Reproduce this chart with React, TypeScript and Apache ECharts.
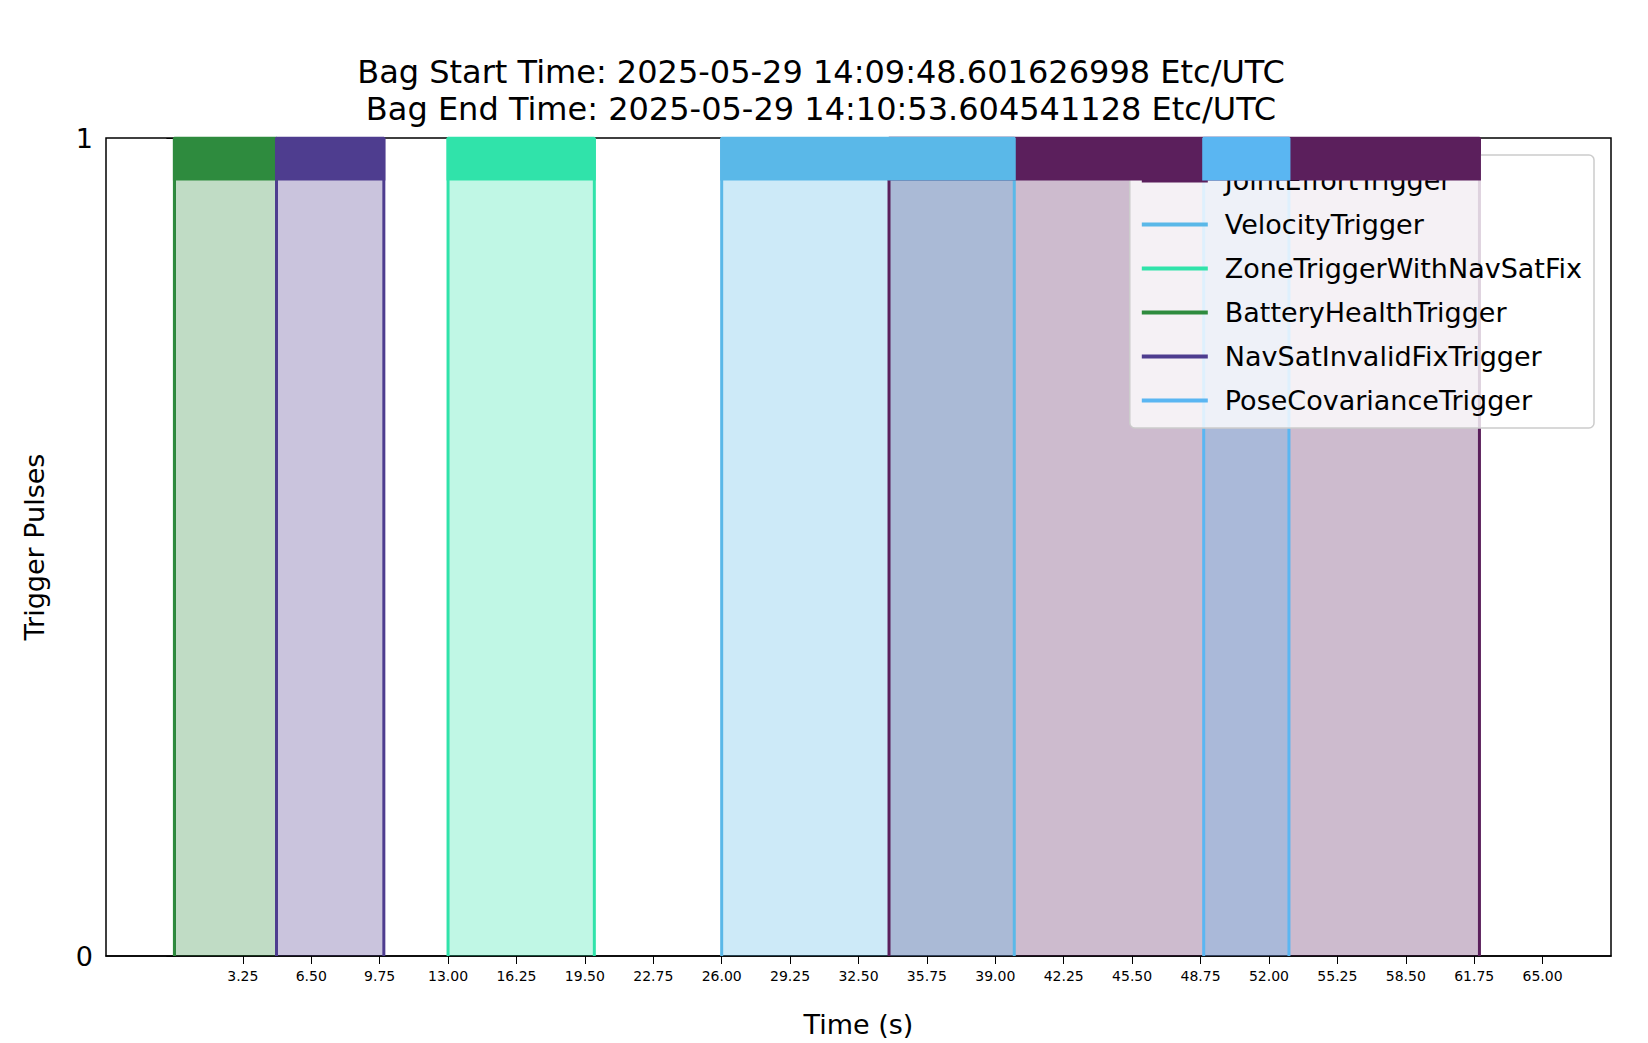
import React, { useEffect, useRef } from "react";
import * as echarts from "echarts";

const triggerNames = ["JointEffortTrigger", "VelocityTrigger", "ZoneTriggerWithNavSatFix", "BatteryHealthTrigger", "NavSatInvalidFixTrigger", "PoseCovarianceTrigger"];
const triggerColors = ["#5b1f5c", "#5ab8e8", "#30e3aa", "#2e8b3e", "#4e3d8f", "#5ab6f2"];
const pulseStart = [33.95, 26.0, 13.0, 0.0, 4.85, 48.9];
const pulseEnd = [62.0, 39.9, 19.95, 4.85, 9.95, 52.95];
const xTicks = [3.25, 6.5, 9.75, 13, 16.25, 19.5, 22.75, 26, 29.25, 32.5, 35.75, 39, 42.25, 45.5, 48.75, 52, 55.25, 58.5, 61.75, 65];
const titleLines = ["Bag Start Time: 2025-05-29 14:09:48.601626998 Etc/UTC", "Bag End Time: 2025-05-29 14:10:53.604541128 Etc/UTC"];
const bandBottom = 0.948;

export default function App() {
  const ref = useRef<HTMLDivElement>(null);
  useEffect(() => {
    const chart = echarts.init(ref.current!, null, { renderer: "svg" });
    const series: any[] = triggerNames.map((n, i) => ({
      type: "line",
      name: n,
      symbol: "none",
      color: triggerColors[i],
      z: 2,
      lineStyle: { width: 3, color: triggerColors[i] },
      areaStyle: { color: triggerColors[i], opacity: 0.3 },
      data: [[pulseStart[i], 0], [pulseStart[i], 1], [pulseEnd[i], 1], [pulseEnd[i], 0]],
    }));
    series.push({
      type: "custom",
      name: "bands",
      z: 5,
      silent: true,
      data: triggerNames.map((_, i) => [pulseStart[i], pulseEnd[i], i]),
      renderItem: (params: any, api: any) => {
        const p1 = api.coord([api.value(0), 1]);
        const p2 = api.coord([api.value(1), bandBottom]);
        return {
          type: "rect",
          shape: { x: p1[0] - 1.5, y: p1[1], width: p2[0] - p1[0] + 3, height: p2[1] - p1[1] },
          style: { fill: triggerColors[api.value(2)] },
        };
      },
    });
    chart.setOption({
      animation: false,
      backgroundColor: "#fff",
      textStyle: { fontFamily: "DejaVu Sans" },
      title: {
        text: titleLines.join("\n"),
        left: 816,
        top: 48,
        textAlign: "center",
        textStyle: { fontSize: 32, fontWeight: "normal", color: "#000", lineHeight: 37, fontFamily: "DejaVu Sans" },
      },
      grid: { left: 106, top: 138, width: 1505, height: 835, show: true, borderColor: "#000", borderWidth: 1.5, backgroundColor: "transparent" },
      legend: {
        orient: "vertical",
        right: 1648 - 1594,
        top: 155,
        padding: [12, 12, 14, 12],
        itemGap: 17,
        itemWidth: 66,
        itemHeight: 4,
        icon: "rect",
        backgroundColor: "rgba(255,255,255,0.8)",
        borderColor: "#ccc",
        borderWidth: 1.5,
        borderRadius: 5,
        data: triggerNames,
        textStyle: { fontSize: 27, color: "#000", fontFamily: "DejaVu Sans", padding: [0, 0, 0, 12] },
      },
      xAxis: {
        type: "value",
        min: -3.25,
        max: 68.25,
        name: "Time (s)",
        nameLocation: "middle",
        nameGap: 55,
        nameTextStyle: { fontSize: 27, color: "#000" },
        splitLine: { show: false },
        axisLine: { show: true, lineStyle: { color: "#000", width: 1.5 } },
        axisTick: { show: true, length: 8, lineStyle: { color: "#000" }, customValues: xTicks },
        axisLabel: { fontSize: 14, color: "#000", margin: 13, customValues: xTicks, formatter: (v: number) => v.toFixed(2) },
      },
      yAxis: {
        type: "value",
        min: 0,
        max: 1,
        interval: 1,
        name: "Trigger Pulses",
        nameLocation: "middle",
        nameGap: 58,
        nameTextStyle: { fontSize: 27, color: "#000" },
        splitLine: { show: false },
        axisLine: { show: true, lineStyle: { color: "#000", width: 1.5 } },
        axisTick: { show: true, length: 8, lineStyle: { color: "#000" } },
        axisLabel: { fontSize: 27, color: "#000", margin: 13 },
      },
      series,
    });
    return () => chart.dispose();
  }, []);
  return <div ref={ref} style={{ position: "absolute", left: 0, top: 0, width: 1648, height: 1043 }} />;
}
